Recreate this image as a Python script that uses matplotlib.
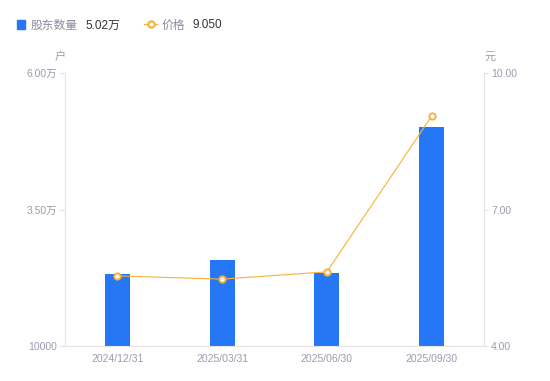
import matplotlib
matplotlib.use("Agg")
import matplotlib.pyplot as plt
from matplotlib.lines import Line2D
from matplotlib.patches import Rectangle

plt.rcParams['font.family'] = ['Liberation Sans', 'Noto Sans CJK SC', 'DejaVu Sans']

categories = ["2024/12/31", "2025/03/31", "2025/06/30", "2025/09/30"]
holders = [23200, 25750, 23400, 50200]
prices = [5.54, 5.47, 5.63, 9.05]
left_ticks = [10000, 35000, 60000]
left_labels = ["10000", "3.50万", "6.00万"]
right_ticks = [4.0, 7.0, 10.0]
right_labels = ["4.00", "7.00", "10.00"]

W, H = 550, 381
fig = plt.figure(figsize=(W / 100, H / 100), dpi=100)
ax = fig.add_axes([65 / W, 1 - 346 / H, (484 - 65) / W, (346 - 73) / H])
ax2 = ax.twinx()

blue = "#2577f5"
orange = "#f7b13a"
tick_col = "#9a9bb0"
axis_col = "#e3e3e8"

x = list(range(len(categories)))
ax.bar(x, holders, width=0.24, color=blue, zorder=2)
ax.set_xlim(-0.5, len(categories) - 0.5)
ax.set_ylim(left_ticks[0], left_ticks[-1])
ax.set_yticks(left_ticks)
ax.set_yticklabels(left_labels)
ax.set_xticks(x)
ax.set_xticklabels(categories)

ax2.plot(x, prices, color=orange, lw=0.8, marker='o', ms=4.5, mfc='white',
         mec=orange, mew=1.4, zorder=3)
ax2.set_ylim(right_ticks[0], right_ticks[-1])
ax2.set_yticks(right_ticks)
ax2.set_yticklabels(right_labels)

for a in (ax, ax2):
    for s in a.spines.values():
        s.set_visible(False)
ax.spines['left'].set_visible(True)
ax.spines['left'].set_color(axis_col)
ax.spines['bottom'].set_visible(True)
ax.spines['bottom'].set_color(axis_col)
ax2.spines['right'].set_visible(True)
ax2.spines['right'].set_color(axis_col)

ax.tick_params(axis='y', colors=axis_col, labelcolor=tick_col, labelsize=7.5,
               length=4, width=0.8, pad=2)
ax.tick_params(axis='x', length=0, labelcolor=tick_col, labelsize=7.5, pad=6)
ax2.tick_params(axis='y', colors=axis_col, labelcolor=tick_col, labelsize=7.5,
                length=3, width=0.8, pad=2, direction='out')

fig.text(60 / W, 1 - 57 / H, "户", color=tick_col, fontsize=8, ha='center', va='center')
fig.text(490 / W, 1 - 57 / H, "元", color=tick_col, fontsize=8, ha='center', va='center')

# legend
ly = 1 - 25.5 / H
fig.patches.append(Rectangle((17 / W, 1 - 29 / H), 8 / W, 9 / H, transform=fig.transFigure,
                             color=blue, figure=fig))
fig.text(31 / W, ly, "股东数量", color="#8a8c9e", fontsize=8.5, va='center')
fig.text(85 / W, ly, f"{holders[-1] / 10000:.2f}万", color="#333333", fontsize=8.5, va='center')
fig.lines.append(Line2D([144 / W, 157 / W], [1 - 24 / H] * 2, transform=fig.transFigure,
                        color=orange, lw=1))
fig.lines.append(Line2D([150.5 / W], [1 - 24 / H], transform=fig.transFigure, marker='o',
                        ms=4.5, mfc='white', mec=orange, mew=1.5, lw=0))
fig.text(162 / W, ly, "价格", color="#8a8c9e", fontsize=8.5, va='center')
fig.text(192 / W, ly, f"{prices[-1]:.3f}", color="#333333", fontsize=8.5, va='center')

fig.savefig("out.png", dpi=100)
